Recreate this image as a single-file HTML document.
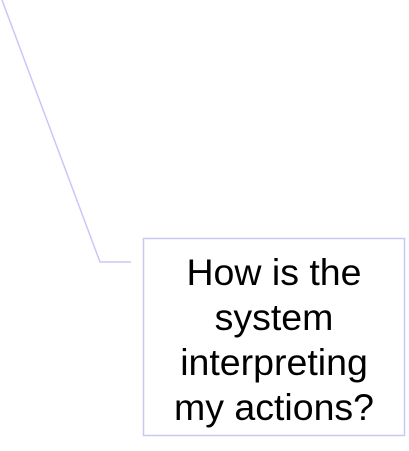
<!DOCTYPE html>
<html><head><meta charset="utf-8"><style>
html,body{margin:0;padding:0;background:#fff;width:409px;height:451px;overflow:hidden}
svg{display:block}
text{font-family:"Liberation Sans",Arial,sans-serif;font-size:37.5px;fill:#000}
</style></head><body>
<svg width="409" height="451">
<polyline points="2,0 100,262 131,262" fill="none" stroke="#c8c8f6" stroke-width="1.5"/>
<rect x="143.5" y="238.5" width="261" height="197" fill="#fff" stroke="#c8c8f6" stroke-width="1.5"/>
<g text-anchor="middle">
<text x="274" y="285">How is the</text>
<text x="274" y="330">system</text>
<text x="274" y="375">interpreting</text>
<text x="274" y="420">my actions?</text>
</g>
</svg>
</body></html>
